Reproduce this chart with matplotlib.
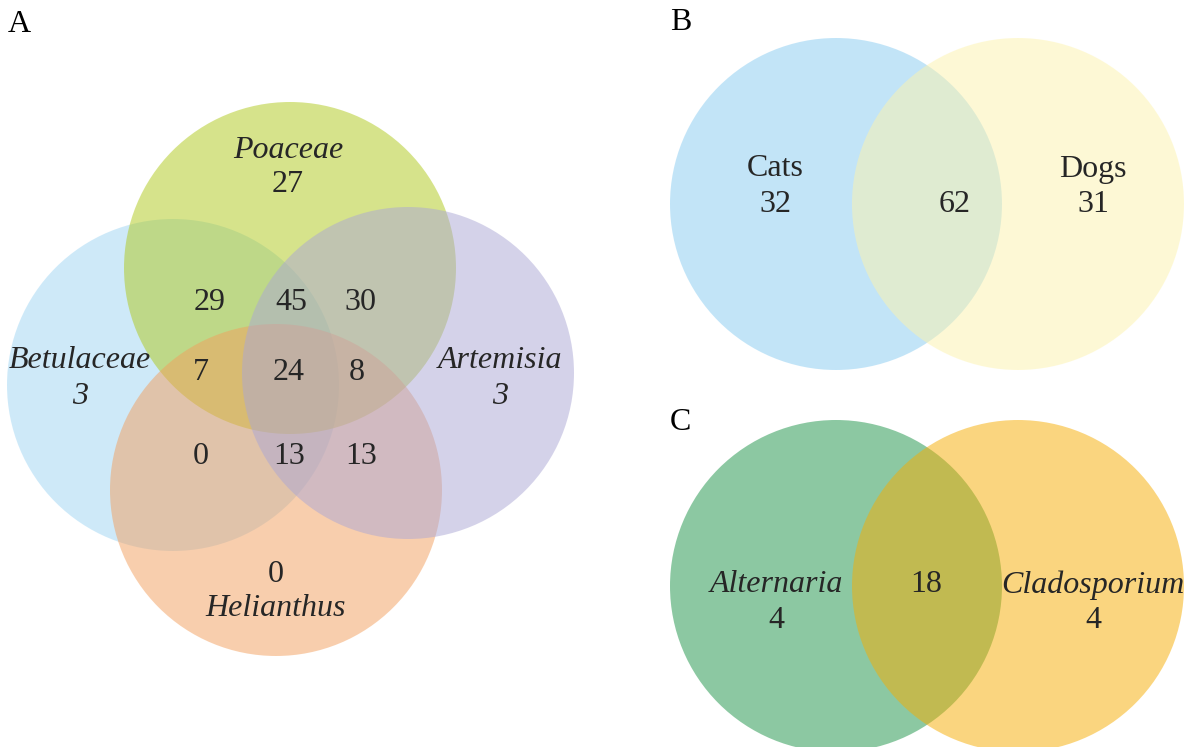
import matplotlib
matplotlib.use("Agg")
import matplotlib.pyplot as plt
from matplotlib.patches import Circle

# ---------------- data ----------------
# Panel A: four pollen sets
sets_a = ["Betulaceae", "Poaceae", "Artemisia", "Helianthus"]
only_a = [3, 27, 3, 0]                      # unique to each set
# overlaps (region name -> count)
overlap_keys_a = ["B&P", "P&B&A", "P&A", "B&P&H", "all", "P&A&H", "B&H", "B&A&H", "A&H"]
overlap_vals_a = [29, 45, 30, 7, 24, 8, 0, 13, 13]

# Panel B
sets_b = ["Cats", "Dogs"]
only_b = [32, 31]
both_b = 62

# Panel C
sets_c = ["Alternaria", "Cladosporium"]
only_c = [4, 4]
both_c = 18

# ---------------- layout (pixel coords, y down) ----------------
W, H = 1186, 747
fig = plt.figure(figsize=(W / 100, H / 100), dpi=100)
ax = fig.add_axes([0, 0, 1, 1])
ax.set_xlim(0, W)
ax.set_ylim(H, 0)
ax.axis("off")

FONT = "Liberation Serif"
TXT = "#262626"
FS = 23
ALPHA = 0.5

# Panel A circles: Betulaceae, Poaceae, Artemisia, Helianthus
circ_a = [(173, 385), (290, 268), (408, 373), (276, 490)]
rad_a = 166
col_a = ["#9fd5f3", "#afc919", "#aba7d5", "#f39f5d"]
draw_order_a = [0, 1, 3, 2]
for i in draw_order_a:
    ax.add_patch(Circle(circ_a[i], rad_a, facecolor=col_a[i], alpha=ALPHA,
                        edgecolor="none"))

# set labels + unique counts
lab_pos_a = [(80, 360), (288, 150), (500, 360), (276, 608)]
cnt_pos_a = [(80, 397), (288, 185), (500, 397), (276, 575)]
for name, n, lp, cp in zip(sets_a, only_a, lab_pos_a, cnt_pos_a):
    ax.text(*lp, name, fontsize=FS, style="italic", family=FONT, color=TXT,
            ha="center", va="center")
    ax.text(*cp, str(n), fontsize=FS, family=FONT, color=TXT,
            style="italic" if name in ("Betulaceae", "Artemisia") else "normal",
            ha="center", va="center")

ov_pos_a = [(210, 302), (291, 302), (360, 302),
            (201, 373), (289, 373), (357, 373),
            (201, 457), (289, 457), (361, 457)]
for v, p in zip(overlap_vals_a, ov_pos_a):
    ax.text(*p, str(v), fontsize=FS, family=FONT, color=TXT,
            ha="center", va="center")

ax.text(8, 24, "A", fontsize=FS, family=FONT, color="black", ha="left", va="center")

# Panel B
rad_b = 166
circ_b = [(836, 204), (1018, 204)]
col_b = ["#87cbf1", "#fdf3ad"]
for c, col in zip(circ_b, col_b):
    ax.add_patch(Circle(c, rad_b, facecolor=col, alpha=ALPHA, edgecolor="none"))
ax.text(775, 169, sets_b[0], fontsize=FS, family=FONT, color=TXT, ha="center", va="center")
ax.text(775, 204, str(only_b[0]), fontsize=FS, family=FONT, color=TXT, ha="center", va="center")
ax.text(1093, 169, sets_b[1], fontsize=FS, family=FONT, color=TXT, ha="center", va="center")
ax.text(1093, 204, str(only_b[1]), fontsize=FS, family=FONT, color=TXT, ha="center", va="center")
ax.text(955, 204, str(both_b), fontsize=FS, family=FONT, color=TXT, ha="center", va="center")
ax.text(670, 23, "B", fontsize=FS, family=FONT, color="black", ha="left", va="center")

# Panel C
rad_c = 166
circ_c = [(836, 586), (1018, 586)]
col_c = ["#1b9347", "#f7ad01"]
for c, col in zip(circ_c, col_c):
    ax.add_patch(Circle(c, rad_c, facecolor=col, alpha=ALPHA, edgecolor="none"))
ax.text(776, 585, sets_c[0], fontsize=FS, style="italic", family=FONT, color=TXT, ha="center", va="center")
ax.text(776, 621, str(only_c[0]), fontsize=FS, family=FONT, color=TXT, ha="center", va="center")
ax.text(1093, 585, sets_c[1], fontsize=FS, style="italic", family=FONT, color=TXT, ha="center", va="center")
ax.text(1093, 621, str(only_c[1]), fontsize=FS, family=FONT, color=TXT, ha="center", va="center")
ax.text(926, 585, str(both_c), fontsize=FS, family=FONT, color=TXT, ha="center", va="center")
ax.text(670, 423, "C", fontsize=FS, family=FONT, color="black", ha="left", va="center")

fig.savefig("out.png", dpi=100, facecolor="white")
